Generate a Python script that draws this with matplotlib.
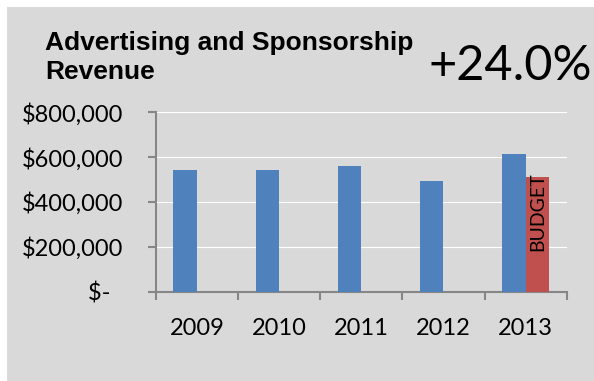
import numpy as np
import matplotlib.pyplot as plt
from matplotlib.patches import Rectangle
from matplotlib.ticker import FixedLocator

years = ["2009", "2010", "2011", "2012", "2013"]
actual = [544000, 544000, 558000, 493500, 612000]
budget = [np.nan, np.nan, np.nan, np.nan, 510000]
y_ticks = [0, 200000, 400000, 600000, 800000]
y_labels = ["$-  ", "$200,000", "$400,000", "$600,000", "$800,000"]
title = "Advertising and Sponsorship\nRevenue"
change = "+24.0%"

bg = "#D9D9D9"
axis_col = "#868686"

fig = plt.figure(figsize=(5.94, 3.81), dpi=100)
fig.patch.set_facecolor("white")
# grey panel, white strip on the top and left
fig.patches.append(Rectangle((7 / 594, 0), 1, 1 - 7 / 381, transform=fig.transFigure,
                             facecolor=bg, edgecolor="none", zorder=-5))

ax = fig.add_axes([156 / 594, 1 - 291.7 / 381, 410.7 / 594, 179.5 / 381])
ax.set_facecolor("none")

x = np.arange(len(years))
w = 0.287
ax.bar(x - w / 2, actual, w, color="#4F81BD", zorder=3)
ax.bar(x + w / 2, budget, w, color="#C0504D", zorder=3)

ax.annotate("BUDGET", xy=(x[4] + w / 2, budget[4]), xytext=(0, 4.5),
            textcoords="offset pixels", rotation=90, ha="center", va="top",
            fontsize=14, family="Lato", zorder=4)

ax.set_xlim(-0.5, len(years) - 0.5)
ax.set_ylim(0, 800000)
ax.set_yticks(y_ticks)
ax.set_yticklabels(y_labels)
ax.set_xticks(x)
ax.set_xticklabels(years)
ax.xaxis.set_minor_locator(FixedLocator(np.arange(-0.5, len(years), 1)))

ax.grid(axis="y", color="white", linewidth=0.8, zorder=1)
for s in ["top", "right"]:
    ax.spines[s].set_visible(False)
for s in ["left", "bottom"]:
    ax.spines[s].set_color(axis_col)
    ax.spines[s].set_linewidth(1.5)

ax.tick_params(axis="x", which="major", length=0, pad=19)
ax.tick_params(axis="x", which="minor", length=5.4, width=1.5, color=axis_col)
ax.tick_params(axis="y", length=5.8, width=1.5, color=axis_col, pad=18)
for lab in ax.get_xticklabels() + ax.get_yticklabels():
    lab.set_fontfamily("Lato")
    lab.set_fontsize(17)

fig.text(45 / 594, 1 - 31 / 381, title, ha="left", va="top", fontsize=19,
         fontweight="bold", family="Liberation Sans", linespacing=1.25)
fig.text(592 / 594, 1 - 80 / 381, change, ha="right", va="baseline",
         fontsize=35, family="Lato")

fig.savefig("out.png", dpi=100)
